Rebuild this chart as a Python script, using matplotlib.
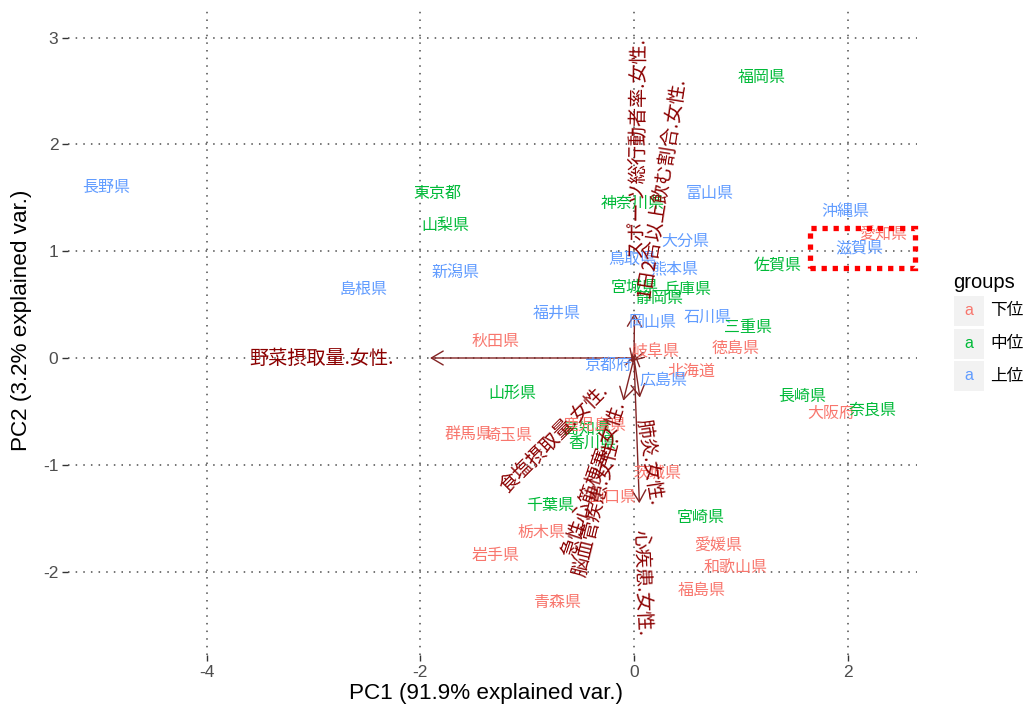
import numpy as np
import matplotlib

matplotlib.use("Agg")  # headless
import matplotlib.pyplot as plt
from matplotlib.patches import Rectangle, FancyArrowPatch
from matplotlib.font_manager import FontProperties

plt.rcParams["axes.unicode_minus"] = False

prefs = [
    "北海道", "青森県", "岩手県", "宮城県", "秋田県", "山形県", "福島県", "茨城県",
    "栃木県", "群馬県", "埼玉県", "千葉県", "東京都", "神奈川県", "新潟県", "富山県",
    "石川県", "福井県", "山梨県", "長野県", "岐阜県", "静岡県", "愛知県", "三重県",
    "滋賀県", "京都府", "大阪府", "兵庫県", "奈良県", "和歌山県", "鳥取県", "島根県",
    "岡山県", "広島県", "山口県", "徳島県", "香川県", "愛媛県", "高知県", "福岡県",
    "佐賀県", "長崎県", "熊本県", "大分県", "宮崎県", "鹿児島県", "沖縄県",
]
pc1 = [
    0.54, -0.72, -1.30, 0.01, -1.30, -1.14, 0.63, 0.22,
    -0.87, -1.55, -1.18, -0.78, -1.84, -0.01, -1.67, 0.71,
    0.69, -0.72, -1.77, -4.94, 0.20, 0.24, 2.33, 1.07,
    2.11, -0.24, 1.85, 0.50, 2.23, 0.95, -0.02, -2.53,
    0.17, 0.28, -0.20, 0.95, -0.39, 0.79, -0.44, 1.20,
    1.35, 1.57, 0.38, 0.48, 0.62, -0.37, 1.98,
]
pc2 = [
    -0.12, -2.29, -1.85, 0.66, 0.15, -0.33, -2.18, -1.08,
    -1.63, -0.72, -0.73, -1.38, 1.54, 1.45, 0.79, 1.54,
    0.38, 0.42, 1.24, 1.60, 0.06, 0.56, 1.15, 0.29,
    1.03, -0.07, -0.52, 0.64, -0.49, -1.96, 0.92, 0.64,
    0.33, -0.21, -1.31, 0.09, -0.80, -1.76, -0.67, 2.63,
    0.87, -0.36, 0.84, 1.09, -1.49, -0.63, 1.37,
]
groups = [
    "下位", "下位", "下位", "中位", "下位", "中位", "下位", "下位",
    "下位", "下位", "下位", "中位", "中位", "中位", "上位", "上位",
    "上位", "上位", "中位", "上位", "下位", "中位", "下位", "中位",
    "上位", "上位", "下位", "中位", "中位", "下位", "上位", "上位",
    "上位", "上位", "下位", "下位", "中位", "下位", "中位", "中位",
    "中位", "中位", "上位", "上位", "中位", "下位", "上位",
]
group_levels = ["下位", "中位", "上位"]
group_colors = ["#F8766D", "#00BA38", "#619CFF"]

# --- variable loadings (arrow tips)
var_names = [
    "野菜摂取量.女性.", "食塩摂取量.女性.", "脳血管疾患.女性.", "急性心筋梗塞.女性.",
    "肺炎.女性.", "心疾患.女性.", "スポーツ総行動者率.女性.", "1日2合以上飲む割合.女性.",
]
var_x = [-1.91, -0.035, -0.10, -0.015, 0.055, 0.05, 0.005, 0.008]
var_y = [0.0, -0.035, -0.40, -0.045, -0.37, -1.36, 0.42, 0.05]

x_ticks = [-4, -2, 0, 2]
y_ticks = [-2, -1, 0, 1, 2, 3]

JP = ["Noto Sans CJK JP", "DejaVu Sans"]
LAT = ["Liberation Sans", "DejaVu Sans"]

W, H = 1023, 706
fig = plt.figure(figsize=(W / 100, H / 100), dpi=100)


def fx(px):
    return px / W


def fy(py):
    return 1 - py / H


# panel placement (pixels)
p_left, p_right, p_top, p_bottom = 68, 917, 10, 655
ax = fig.add_axes([fx(p_left), fy(p_bottom), fx(p_right - p_left), (p_bottom - p_top) / H])
ppu = 106.8  # pixels per data unit
x0px, y0px = 634, 358
ax.set_xlim((p_left - x0px) / ppu, (p_right - x0px) / ppu)
ax.set_ylim((y0px - p_bottom) / ppu, (y0px - p_top) / ppu)

for s in ax.spines.values():
    s.set_visible(False)
ax.set_xticks(x_ticks)
ax.set_yticks(y_ticks)
ax.grid(True, linestyle=(0, (1, 4)), color="#4D4D4D", linewidth=1.1)
ax.set_axisbelow(True)
ax.tick_params(length=4, width=1, color="#333333", labelcolor="#4D4D4D", labelsize=12.5, pad=3)
for lab in ax.get_xticklabels() + ax.get_yticklabels():
    lab.set_family(LAT)

ax.set_xlabel("PC1 (91.9% explained var.)", fontsize=16.2, family=LAT)
ax.set_ylabel("PC2 (3.2% explained var.)", fontsize=16.2, family=LAT)
ax.xaxis.set_label_coords(0.492, (p_bottom - 693) / 645, transform=ax.transAxes)
ax.xaxis.label.set_va("center")
ax.yaxis.set_label_coords((22 - p_left) / 849, (p_bottom - 320) / 645, transform=ax.transAxes)
ax.yaxis.label.set_va("center")

# arrows
arrow_col = "#832424"
for vx, vy in zip(var_x, var_y):
    ax.add_patch(FancyArrowPatch((0, 0), (vx, vy), arrowstyle="->,head_length=0.85,head_width=0.5",
                                 mutation_scale=10, color=arrow_col, lw=1.0,
                                 shrinkA=0, shrinkB=0, zorder=2))

# observation labels
cmap = dict(zip(group_levels, group_colors))
for name, x, y, g in zip(prefs, pc1, pc2, groups):
    ax.text(x, y, name, color=cmap[g], fontsize=11.5, family=JP,
            ha="center", va="center", zorder=3)

# variable labels (ggbiplot style: angle = atan(y/x), hjust = (1 - 1.5*sign(x))/2)
renderer = fig.canvas.get_renderer()
fp = FontProperties(family=JP, size=13.8)
for name, vx, vy in zip(var_names, var_x, var_y):
    ang = np.degrees(np.arctan(vy / vx))
    w, _, _ = renderer.get_text_width_height_descent(name, fp, ismath=False)
    d = np.array([np.cos(np.radians(ang)), np.sin(np.radians(ang))])
    if vx > 0:
        off = 0.25 * w * d
        ha = "left"
    else:
        off = -0.25 * w * d
        ha = "right"
    ax.annotate(name, xy=(vx, vy), xytext=(off[0], off[1]), textcoords="offset pixels",
                rotation=ang, rotation_mode="anchor", ha=ha, va="center",
                color="#8B0000", fontproperties=fp, zorder=4, annotation_clip=False)

# highlight box
ax.add_patch(Rectangle((1.65, 0.84), 0.98, 0.38, fill=False, edgecolor="#FF0000",
                       lw=3.8, linestyle=(0, (1, 1.1)), zorder=5, clip_on=False))

# legend
fig.text(fx(953), fy(282), "groups", fontsize=14.5, family=LAT, va="center", ha="left")
key_top = 296
for i, (g, c) in enumerate(zip(group_levels, group_colors)):
    top = key_top + i * 32.5
    fig.patches.append(Rectangle((fx(954), fy(top + 30)), fx(30), 30 / H,
                                 transform=fig.transFigure, facecolor="#F2F2F2",
                                 edgecolor="none"))
    fig.text(fx(969), fy(top + 15), "a", color=c, fontsize=11.5, family=LAT,
             ha="center", va="center")
    fig.text(fx(990), fy(top + 15), g, fontsize=12, family=JP, ha="left", va="center")

fig.savefig("out.png", dpi=100)
